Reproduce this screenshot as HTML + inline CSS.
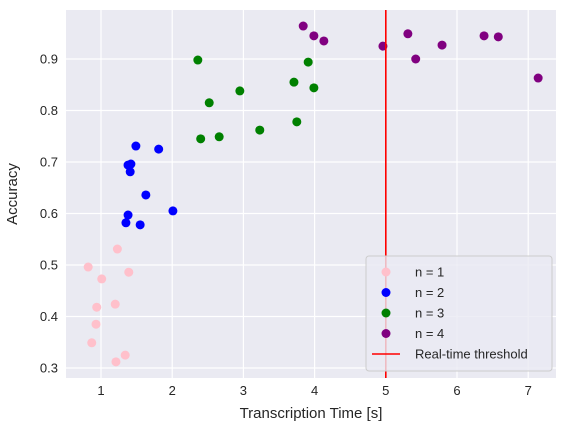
<!DOCTYPE html>
<html><head><meta charset="utf-8"><style>
body{margin:0;background:#fff;font-family:"Liberation Sans","DejaVu Sans",sans-serif;}
svg text{font-family:"Liberation Sans","DejaVu Sans",sans-serif;fill:#262626;}
</style></head><body>
<svg id="chart" width="571" height="437" xmlns="http://www.w3.org/2000/svg"></svg>
<script>
const xTicks=[1,2,3,4,5,6,7];
const yTicks=[0.3,0.4,0.5,0.6,0.7,0.8,0.9];
const seriesNames=["n = 1","n = 2","n = 3","n = 4"];
const seriesColors=["pink","blue","green","purple"];
const x1=[0.82,1.01,1.23,1.39,0.94,1.20,0.93,0.87,1.34,1.21];
const y1=[0.496,0.473,0.531,0.486,0.418,0.424,0.385,0.349,0.325,0.312];
const x2=[1.49,1.81,1.38,1.42,1.41,1.63,1.38,1.35,1.55,2.01];
const y2=[0.731,0.725,0.694,0.696,0.681,0.636,0.597,0.582,0.578,0.605];
const x3=[2.36,2.52,2.95,2.40,2.66,3.23,3.71,3.91,3.99,3.75];
const y3=[0.898,0.815,0.838,0.745,0.749,0.762,0.855,0.894,0.844,0.778];
const x4=[3.84,3.99,4.13,4.96,5.31,5.42,5.79,6.38,6.58,7.14];
const y4=[0.964,0.945,0.935,0.925,0.949,0.900,0.927,0.945,0.943,0.863];
const threshold=5;

const NS="http://www.w3.org/2000/svg";
const svg=document.getElementById('chart');
const L=66,R=556,T=10,B=378;
const sx=v=>29.8+v*71.2;
const sy=v=>368-(v-0.3)*515;
function mk(tag,attrs,parent){const e=document.createElementNS(NS,tag);for(const k in attrs)e.setAttribute(k,attrs[k]);(parent||svg).appendChild(e);return e;}
const bg=mk('rect',{x:L,y:T,width:R-L,height:B-T,fill:'#eaeaf2'});


xTicks.forEach(t=>{
  const g=mk('line',{x1:sx(t),x2:sx(t),y1:T,y2:B,stroke:'#fff','stroke-width':1.2});
  
  
  const tx=mk('text',{x:sx(t),y:B+17,'text-anchor':'middle','font-size':13});
  tx.textContent=t;
  
  
});
yTicks.forEach(t=>{
  const g=mk('line',{x1:L,x2:R,y1:sy(t),y2:sy(t),stroke:'#fff','stroke-width':1.2});
  
  
  const tx=mk('text',{x:L-8,y:sy(t)+4.5,'text-anchor':'end','font-size':13});
  tx.textContent=t.toFixed(1);
  
  
});
const xs=[x1,x2,x3,x4],ys=[y1,y2,y3,y4];
xs.forEach((xa,i)=>{xa.forEach((xv,j)=>{
  const c=mk('circle',{cx:sx(xv),cy:sy(ys[i][j]),r:4.5,fill:seriesColors[i]});
  
  
});});
const th=mk('line',{x1:sx(threshold),x2:sx(threshold),y1:T,y2:B,stroke:'red','stroke-width':1.6});


const xl=mk('text',{x:(L+R)/2,y:418,'text-anchor':'middle','font-size':15});
xl.textContent='Transcription Time [s]';


const yl=mk('text',{x:0,y:0,'text-anchor':'middle','font-size':15,transform:'translate(17,194) rotate(-90)'});
yl.textContent='Accuracy';


const lg=mk('g',{});


mk('rect',{x:366,y:256,width:186,height:115,fill:'#eaeaf2','fill-opacity':0.8,stroke:'#ccc',rx:3},lg);
seriesNames.forEach((n,i)=>{
  const yy=272+i*20.5;
  const c=mk('circle',{cx:386,cy:yy,r:4.5,fill:seriesColors[i]},lg);
  
  
  const t=mk('text',{x:415,y:yy+4.5,'font-size':13},lg);
  t.textContent=n;
  
  
});
const ly=272+4*20.5;
mk('line',{x1:372,x2:400,y1:ly,y2:ly,stroke:'red','stroke-width':1.6},lg);
const lt=mk('text',{x:415,y:ly+4.5,'font-size':13},lg);
lt.textContent='Real-time threshold';


</script>
</body></html>
